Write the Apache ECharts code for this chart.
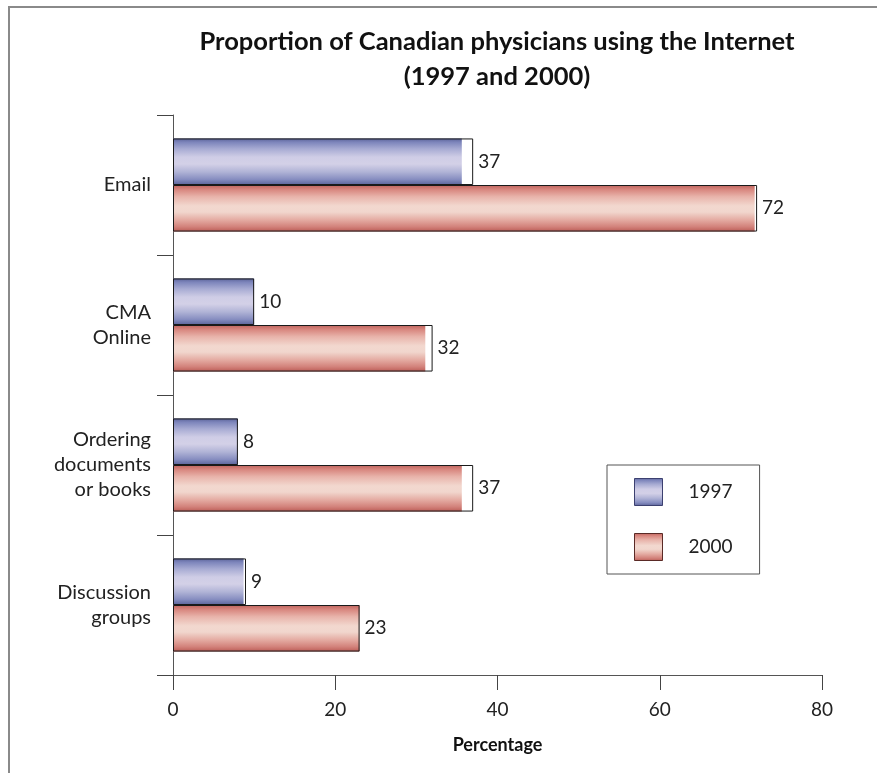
<!DOCTYPE html>
<html>
<head>
<meta charset="utf-8">
<script src="https://cdn.jsdelivr.net/npm/echarts@6/dist/echarts.min.js"></script>
<style>
  html, body { margin: 0; padding: 0; background: #fff; }
  #wrap { position: relative; width: 877px; height: 773px; overflow: hidden; }
  #chart { position: absolute; left: 0; top: 0; width: 877px; height: 773px; }
  #frame { position: absolute; left: 8px; top: 6px; width: 900px; height: 800px;
           border-left: 2px solid #8a8a8a; border-top: 2px solid #8a8a8a; pointer-events: none; }
</style>
</head>
<body>
<div id="wrap"><div id="chart"></div><div id="frame"></div></div>
<script>
// Categories (top to bottom)
const categories = ['Email', 'CMA\nOnline', 'Ordering\ndocuments\nor books', 'Discussion\ngroups'];
// Values (percent)
const values1997 = [37, 10, 8, 9];
const values2000 = [72, 32, 37, 23];
// Extent of the coloured fill inside each bar outline, as drawn in the reference
const fill1997 = [35.6, 10, 8, 8.7];
const fill2000 = [71.7, 31.1, 35.6, 23];
// X-axis ticks
const xTicks = [0, 20, 40, 60, 80];

const FONT = 'Lato, "Open Sans", sans-serif';

function grad(stops) {
  return new echarts.graphic.LinearGradient(0, 0, 0, 1,
    stops.map(s => ({ offset: s[0], color: s[1] })));
}
const blueGrad = grad([[0, '#5a6298'], [0.08, '#7d85bb'], [0.22, '#a6aad2'], [0.4, '#cfcde6'],
  [0.55, '#d3d0e7'], [0.72, '#b0b3d6'], [0.88, '#868dc0'], [1, '#5a6298']]);
const redGrad = grad([[0, '#bf625c'], [0.1, '#d8877f'], [0.25, '#e8b3aa'], [0.45, '#f2d8cf'],
  [0.58, '#f1d6cd'], [0.75, '#e4aba2'], [0.9, '#d2817a'], [1, '#bb5c56']]);

const chart = echarts.init(document.getElementById('chart'), null, { renderer: 'canvas' });

const catAxisBase = {
  type: 'category',
  data: categories,
  inverse: true,
  boundaryGap: true
};

const option = {
  backgroundColor: '#ffffff',
  animation: false,
  title: {
    text: 'Proportion of Canadian physicians using the Internet\n(1997 and 2000)',
    left: 497,
    textAlign: 'center',
    top: 24,
    padding: 0,
    textStyle: {
      fontFamily: FONT,
      fontWeight: 'bold',
      fontSize: 25.5,
      lineHeight: 35,
      color: '#111'
    }
  },
  legend: {
    orient: 'vertical',
    left: 607,
    top: 465,
    padding: [13, 27, 13, 27],
    itemWidth: 28,
    itemHeight: 27,
    itemGap: 27,
    icon: 'rect',
    borderColor: '#555',
    borderWidth: 1,
    selectedMode: false,
    data: [
      { name: '1997', icon: 'rect', itemStyle: { borderColor: '#3c4070', borderWidth: 1 } },
      { name: '2000', icon: 'rect', itemStyle: { borderColor: '#5a2a26', borderWidth: 1 } }
    ],
    textStyle: { fontFamily: FONT, fontSize: 19, color: '#222', padding: [0, 0, 0, 21] }
  },
  grid: { left: 173, right: 55, top: 115, bottom: 98, containLabel: false },
  xAxis: {
    type: 'value',
    min: xTicks[0],
    max: xTicks[xTicks.length - 1],
    interval: 20,
    name: 'Percentage',
    nameLocation: 'middle',
    nameGap: 61,
    nameTextStyle: { fontFamily: FONT, fontWeight: 'bold', fontSize: 18, color: '#111' },
    axisLine: { show: true, lineStyle: { color: '#555', width: 1 } },
    axisTick: { show: true, length: 15, lineStyle: { color: '#444' } },
    axisLabel: { margin: 25, fontFamily: FONT, fontSize: 19, color: '#222' },
    splitLine: { show: false }
  },
  yAxis: [
    Object.assign({}, catAxisBase, {
      axisLine: { show: true, lineStyle: { color: '#555', width: 1 } },
      axisTick: { show: true, inside: false, length: 16, lineStyle: { color: '#444' } },
      axisLabel: { margin: 22, fontFamily: FONT, fontSize: 20, lineHeight: 25, color: '#222', align: 'right' }
    }),
    Object.assign({}, catAxisBase, {
      show: false,
      position: 'left'
    })
  ],
  series: [
    {
      name: '1997', type: 'bar', yAxisIndex: 0, data: fill1997,
      barGap: '0%', barCategoryGap: '33.5%', z: 2,
      itemStyle: { color: blueGrad, borderWidth: 0 }
    },
    {
      name: '2000', type: 'bar', yAxisIndex: 0, data: fill2000,
      barGap: '0%', barCategoryGap: '33.5%', z: 2,
      itemStyle: { color: redGrad, borderWidth: 0 }
    },
    {
      name: '1997', type: 'bar', yAxisIndex: 1, data: values1997,
      barGap: '0%', barCategoryGap: '33.5%', z: 3,
      itemStyle: { color: 'rgba(0,0,0,0)', borderColor: '#1a1a1a', borderWidth: 1 },
      label: { show: true, position: 'right', distance: 5, fontFamily: FONT, fontSize: 19, color: '#222' }
    },
    {
      name: '2000', type: 'bar', yAxisIndex: 1, data: values2000,
      barGap: '0%', barCategoryGap: '33.5%', z: 3,
      itemStyle: { color: 'rgba(0,0,0,0)', borderColor: '#1a1a1a', borderWidth: 1 },
      label: { show: true, position: 'right', distance: 5, fontFamily: FONT, fontSize: 19, color: '#222' }
    }
  ]
};

chart.setOption(option);
</script>
</body>
</html>
